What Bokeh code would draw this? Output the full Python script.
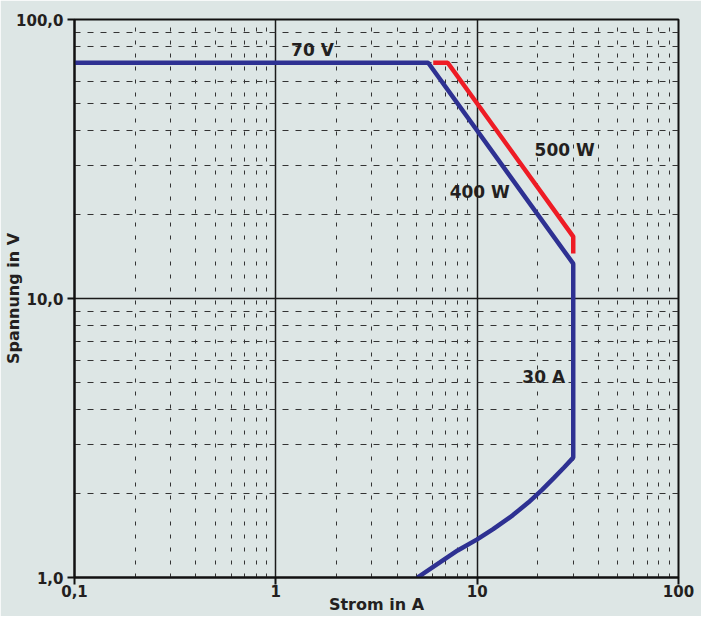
from bokeh.plotting import figure
from bokeh.models import FixedTicker, CustomJSTickFormatter, Range1d
from bokeh.core.properties import value
from bokeh.embed import file_html
from bokeh.resources import INLINE

# ---- data ----
x_ticks = [0.1, 1, 10, 100]
y_ticks = [1, 10, 100]
x_minor = [0.2, 0.3, 0.4, 0.5, 0.6, 0.7, 0.8, 0.9,
           2, 3, 4, 5, 6, 7, 8, 9,
           20, 30, 40, 50, 60, 70, 80, 90]
y_minor = [2, 3, 4, 5, 6, 7, 8, 9, 20, 30, 40, 50, 60, 70, 80, 90]

# 400 W curve (blue)
blue_I = [0.1, 5.71, 30, 30, 27, 24, 21, 18, 15, 12, 10, 8, 6.5, 5.05]
blue_U = [70, 70, 13.33, 2.69, 2.48, 2.27, 2.06, 1.86, 1.67, 1.49, 1.37, 1.25, 1.13, 1.0]

# 500 W curve (red)
red_I = [6.05, 7.14, 30, 30]
red_U = [70, 70, 16.67, 14.5]

label_text = ["70 V", "500 W", "400 W", "30 A"]
label_I = [1.52, 27.2, 10.3, 21.4]
label_U = [78, 34.2, 24.0, 5.25]

BG = "#dde6e5"
FONT = "DejaVu Sans"

p = figure(width=701, height=616, x_axis_type="log", y_axis_type="log",
           x_range=Range1d(0.1, 100), y_range=Range1d(1, 100),
           output_backend="svg", toolbar_location=None,
           min_border_left=74, min_border_right=23,
           min_border_top=19, min_border_bottom=39)
p.background_fill_color = BG
p.border_fill_color = BG
p.outline_line_color = "#111111"
p.outline_line_width = 2

p.xaxis.ticker = FixedTicker(ticks=x_ticks, minor_ticks=x_minor)
p.yaxis.ticker = FixedTicker(ticks=y_ticks, minor_ticks=y_minor)
p.xgrid.ticker = p.xaxis[0].ticker
p.ygrid.ticker = p.yaxis[0].ticker

p.xaxis.formatter = CustomJSTickFormatter(code="return tick.toString().replace('.', ',');")
p.yaxis.formatter = CustomJSTickFormatter(code="return tick.toFixed(1).replace('.', ',');")

for ax in (p.xaxis, p.yaxis):
    ax.axis_line_color = "#111111"
    ax.axis_line_width = 2
    ax.major_tick_line_color = "#111111"
    ax.major_tick_line_width = 2
    ax.major_tick_out = 7
    ax.major_tick_in = 0
    ax.minor_tick_line_color = None
    ax.major_label_text_font = FONT
    ax.major_label_text_font_style = "bold"
    ax.major_label_text_font_size = "15px"
    ax.major_label_text_color = "#231f20"
    ax.axis_label_text_font = FONT
    ax.axis_label_text_font_style = "bold"
    ax.axis_label_text_font_size = "16px"
    ax.axis_label_text_color = "#231f20"

p.xaxis.axis_label = "Strom in A"
p.yaxis.axis_label = "Spannung in V"
p.xaxis.major_label_standoff = 0
p.xaxis.axis_label_standoff = -5
p.yaxis.major_label_standoff = 4
p.yaxis.axis_label_standoff = -10

for g in (p.xgrid, p.ygrid):
    g.grid_line_color = "#1a1a1a"
    g.grid_line_width = 1.5
    g.minor_grid_line_color = "#333333"
    g.minor_grid_line_width = 1
p.xgrid.minor_grid_line_dash = "4 9"
p.ygrid.minor_grid_line_dash = "6 7"

p.line(blue_I, blue_U, line_color="#2e3192", line_width=4.5)
p.line(red_I, red_U, line_color="#ee1c25", line_width=4.5)

p.text(x=label_I, y=label_U, text=label_text,
       text_font=value(FONT), text_font_style="bold", text_font_size="17px",
       text_color="#231f20", text_align="center", text_baseline="middle")

open("out.html", "w").write(file_html(p, INLINE))
